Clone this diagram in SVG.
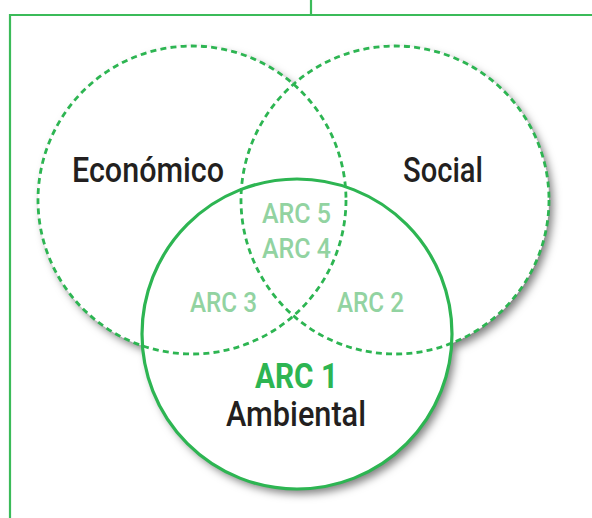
<svg xmlns="http://www.w3.org/2000/svg" width="592" height="518" viewBox="0 0 592 518">
<defs>
<filter id="sh" x="-20%" y="-20%" width="150%" height="150%">
<feDropShadow dx="4" dy="5" stdDeviation="4" flood-color="#000" flood-opacity="0.5"/>
</filter>
<style>
.frame{fill:none;stroke:#3bbb59;stroke-width:2.2}
.dash{fill:none;stroke:#2db552;stroke-width:2.8;stroke-dasharray:6 4.2}
.solid{fill:none;stroke:#2db552;stroke-width:3.2}
.lbl{font-family:Roboto,"Liberation Sans",Arial,sans-serif;font-weight:500;font-size:35px;fill:#231f20}
.arc{font-family:Roboto,"Liberation Sans",Arial,sans-serif;font-weight:500;font-size:28px;fill:#92d3a1}
.arc1{font-family:Roboto,"Liberation Sans",Arial,sans-serif;font-size:35px;font-weight:bold;fill:#2db552}
</style>
</defs>
<g id="frame">
<path class="frame" d="M311,0 V15 M592,15 H10 V518"/>
</g>
<g id="shadows" filter="url(#sh)" fill="#fff">
<circle cx="192" cy="200" r="154"/>
<circle cx="395" cy="200" r="154"/>
<circle cx="297" cy="334" r="155"/>
</g>
<g id="connectors"></g>
<g id="economico">
<circle class="dash" cx="192" cy="200" r="154"/>
<text class="lbl" x="72" y="182" textLength="152" lengthAdjust="spacingAndGlyphs">Económico</text>
</g>
<g id="social">
<circle class="dash" cx="395" cy="200" r="154"/>
<text class="lbl" x="403" y="182" textLength="80" lengthAdjust="spacingAndGlyphs">Social</text>
</g>
<g id="ambiental">
<circle class="solid" cx="297" cy="334" r="155"/>
<text class="arc1" x="255" y="388" textLength="83" lengthAdjust="spacingAndGlyphs">ARC 1</text>
<text class="lbl" x="226" y="426" textLength="140" lengthAdjust="spacingAndGlyphs">Ambiental</text>
</g>
<g id="arc5"><text class="arc" x="262" y="223" textLength="69" lengthAdjust="spacingAndGlyphs">ARC 5</text></g>
<g id="arc4"><text class="arc" x="262" y="258" textLength="69" lengthAdjust="spacingAndGlyphs">ARC 4</text></g>
<g id="arc3"><text class="arc" x="190" y="312" textLength="67" lengthAdjust="spacingAndGlyphs">ARC 3</text></g>
<g id="arc2"><text class="arc" x="337" y="312" textLength="67" lengthAdjust="spacingAndGlyphs">ARC 2</text></g>
</svg>
